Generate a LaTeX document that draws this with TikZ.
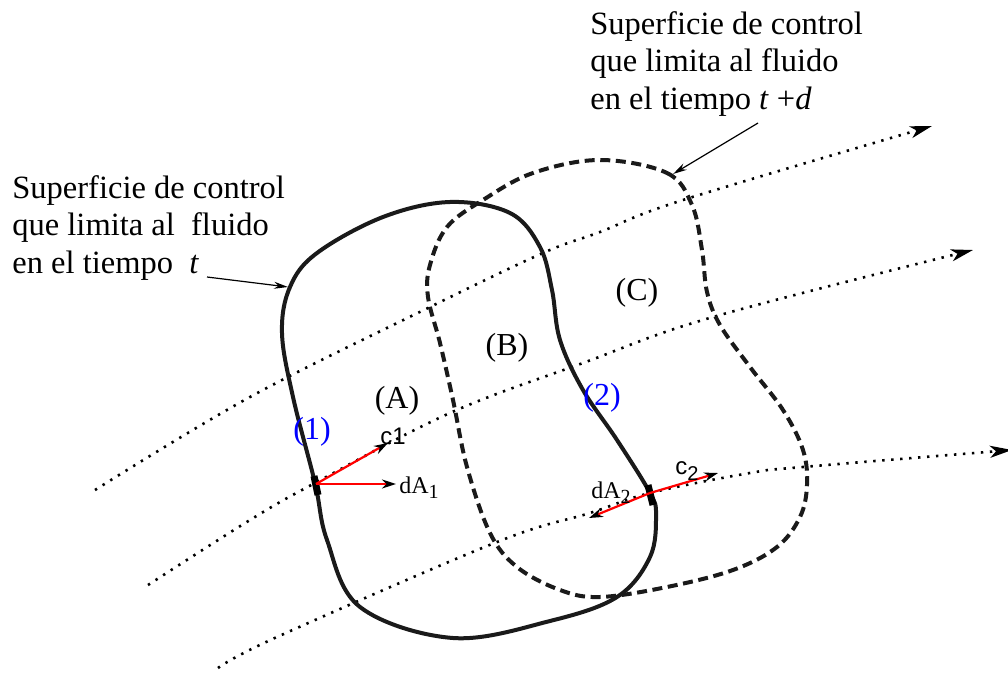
\documentclass[tikz,border=0pt]{standalone}
\usepackage{fontspec}
\setmainfont{Liberation Serif}
\newfontfamily\velfont{Liberation Sans}
\usetikzlibrary{arrows.meta}
\definecolor{ink}{HTML}{1A1A1A}
\definecolor{velred}{HTML}{FF0000}
\definecolor{secblue}{HTML}{0000FF}
\newcommand{\lowsub}[1]{\raisebox{-0.45ex}{\fontsize{10}{12}\selectfont #1}}

\tikzset{
  surface/.style={line width=2pt,draw=ink},
  surfacelater/.style={surface,dash pattern=on 5pt off 2.8pt},
  streamline/.style={line width=1.3pt,dash pattern=on 1.2pt off 3.3pt,-{Stealth[length=11pt,width=6pt,inset=3pt]}},
  vel/.style={line width=1.1pt,velred,-{Stealth[length=7pt,width=4.5pt,black]}},
  callout/.style={line width=0.6pt,-{Stealth[length=7pt,width=3.5pt]}},
  elemark/.style={line width=3.5pt,black},
  calloutlbl/.style={anchor=north west,inner sep=0pt,align=left,font=\fontsize{16.25}{18.75}\selectfont},
  region/.style={inner sep=0pt,font=\fontsize{16}{19}\selectfont},
  section/.style={region,text=secblue},
  smalllbl/.style={inner sep=0pt,font=\fontsize{12}{14}\selectfont},
}

\begin{document}
\begin{tikzpicture}[x=0.5pt,y=-0.5pt]
  \useasboundingbox (0,0) rectangle (1008,674);

  % streamlines
  \draw[streamline] plot[smooth,tension=0.6] coordinates {(95,490) (250,397) (430,307) (543,253) (600,232) (683,200) (932,126)};
  \draw[streamline] plot[smooth,tension=0.6] coordinates {(148,585) (250,520) (315,483) (450,413) (583,363) (713,317) (973,250)};
  \draw[streamline] plot[smooth,tension=0.6] coordinates {(218,668) (277,637) (497,542) (590,513) (650,493) (750,473) (803,467) (1012,450)};

  % control surfaces
  \draw[surface] plot[smooth cycle,tension=0.6] coordinates {(450,202) (510,213) (540,247) (552,290) (560,340) (583,390) (617,440) (650,493) (656,515) (650,557) (617,597) (550,621) (453,638) (360,607) (327,540) (315,483) (293,397) (282,333) (290,287) (317,253) (383,217)};
  \draw[surfacelater] plot[smooth cycle,tension=0.6] coordinates {(600,160) (667,173) (692,205) (702,250) (707,292) (720,325) (750,367) (783,410) (803,450) (807,485) (800,517) (777,547) (733,570) (667,587) (600,597) (560,590) (517,567) (490,533) (467,467) (453,400) (440,343) (428,297) (430,265) (447,227) (483,200) (533,173)};

  % labels
  \node[calloutlbl] (lblT) at (12,175) {Superficie de control\\que limita al \ fluido\\en el tiempo \ \textit{t}};
  \node[calloutlbl] (lblTd) at (590,11) {Superficie de control\\que limita al fluido\\en el tiempo \textit{t} +\textit{d}};
  \coordinate (fromT) at (207,277);
  \coordinate (onT) at (288,287);
  \coordinate (fromTd) at (758,123);
  \coordinate (onTd) at (673,174);
  \draw[callout] (fromT) -- (onT);
  \draw[callout] (fromTd) -- (onTd);

  \node[region] (regA) at (397,401) {(A)};
  \node[region] (regB) at (507,348) {(B)};
  \node[region] (regC) at (637,293) {(C)};
  \node[section] (sec1) at (312,432) {(1)};
  \node[section] (sec2) at (602,398) {(2)};

  % section 1
  \coordinate (p1) at (316,484);
  \coordinate (c1tip) at (388,443);
  \coordinate (dA1tip) at (396,484);
  \draw[elemark] (314,476) -- (318,495);
  \draw[vel] (p1) -- (c1tip);
  \draw[vel] (p1) -- (dA1tip);
  \node[smalllbl] (c1) at (393,436) {\velfont c1};
  \node[smalllbl,anchor=west] (dA1) at (399,488) {dA\lowsub{1}};

  % section 2
  \coordinate (p2) at (650,493);
  \coordinate (c2tip) at (718,473);
  \coordinate (dA2tip) at (589,518);
  \draw[elemark] (648,485) -- (653,505);
  \draw[vel] (p2) -- (c2tip);
  \draw[vel] (p2) -- (dA2tip);
  \node[smalllbl] (c2) at (687,471) {\velfont c\lowsub{2}};
  \node[smalllbl] (dA2) at (611,493) {dA\lowsub{2}};
\end{tikzpicture}
\end{document}
